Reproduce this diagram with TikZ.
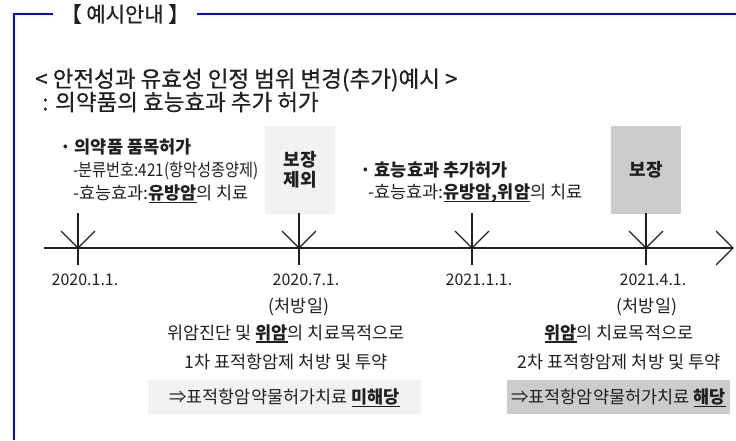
\documentclass[tikz,border=0pt]{standalone}
\usepackage{fontspec}
\setmainfont{Noto Sans CJK KR}
\newfontfamily\titlefont{Noto Sans CJK KR}[FakeBold=0.6]
\newfontfamily\narrowfont{Noto Sans CJK KR}[FakeStretch=0.87]
\usetikzlibrary{positioning}
\definecolor{frameblue}{HTML}{0000FF}
\definecolor{boxlight}{HTML}{F2F2F2}
\definecolor{boxdark}{HTML}{CCCCCC}
\definecolor{ink}{HTML}{231F20}
% bold, underlined word
\newcommand{\bul}[1]{\leavevmode\setbox0=\hbox{\textbf{#1}}\rlap{\smash{\rule[-3.5pt]{\wd0}{1.3pt}}}\box0}

\begin{document}
\begin{tikzpicture}[x=1pt,y=-1pt,
  txt/.style={inner sep=0pt,text=ink,font=\fontsize{17.5}{20}\selectfont},
  head/.style={txt,font=\titlefont\fontsize{22.5}{24}\selectfont},
  note/.style={txt,anchor=west,font=\bfseries\fontsize{17.5}{20}\selectfont},
  tl/.style={line width=1.1pt,ink},
  frame/.style={line width=2pt,frameblue}]
  \useasboundingbox (0,0) rectangle (736,440);
  % frame with heading
  \node[txt,font=\titlefont\fontsize{21}{22}\selectfont,minimum width=144pt] (hdr) at (125,14) {【 예시안내 】};
  \draw[frame] (hdr.west) -- (14,14) -- (14,440);
  \draw[frame] (hdr.east) -- (736,14);
  % titles
  \node[head,anchor=west] (title) at (35,80) {< 안전성과 유효성 인정 범위 변경(추가)예시 >};
  \node[head,anchor=west] (subtitle) at (42,102) {: 의약품의 효능효과 추가 허가};
  % permit notes
  \node[note] (permit) at (60,147) {· 의약품 품목허가};
  \node[txt,anchor=west,font=\narrowfont\fontsize{17.5}{20}\selectfont] (code) at (73,171) {-분류번호:421(항악성종양제)};
  \node[txt,anchor=west] (eff1) at (73,193) {-효능효과:\bul{유방암}의 치료};
  \node[note] (addpermit) at (360,170) {· 효능효과 추가허가};
  \node[txt,anchor=west] (eff2) at (368,193) {-효능효과:\bul{유방암,위암}의 치료};
  % coverage boxes
  \node[txt,fill=boxlight,minimum width=70pt,minimum height=88pt,align=center,font=\bfseries\fontsize{18}{20}\selectfont] (excl) at (300,170) {보장\\제외};
  \node[txt,fill=boxdark,minimum width=70pt,minimum height=88pt,font=\bfseries\fontsize{18}{20}\selectfont] (cover) at (646,170) {보장};
  % time line
  \coordinate (tlstart) at (44,248);
  \coordinate (tlend) at (733,248);
  \draw[tl] (tlstart) -- (tlend);
  \draw[tl] (tlend) ++(-17,-17) -- (tlend) -- ++(-17,17);
  \foreach \n/\x/\day in {1/78/2020.1.1.,2/299/2020.7.1.,3/472/2021.1.1.,4/646/2021.4.1.}{
    \coordinate (t\n) at (\x,248);
    \draw[tl] (\x,213) -- (\x,265);
    \draw[tl] (\x-17,231) -- (t\n) -- (\x+17,231);
    \node[txt,font=\fontsize{16}{18}\selectfont] (d\n) at (\x+7,280) {\day};
  }
  \node[txt] (rx1) at (299,307) {(처방일)};
  \node[txt] (rx2) at (647,307) {(처방일)};
  % prescriptions and results
  \node[txt,align=center,font=\fontsize{17.5}{29}\selectfont] (use1) at (286,347) {위암진단 및 \bul{위암}의 치료목적으로\\1차 표적항암제 처방 및 투약};
  \node[txt,align=center,font=\fontsize{17.5}{29}\selectfont] (use2) at (619,347) {\bul{위암}의 치료목적으로\\2차 표적항암제 처방 및 투약};
  \node[txt,fill=boxlight,minimum width=273pt,minimum height=34pt] (res1) at (284.5,397) {⇒표적항암약물허가치료 \bul{미해당}};
  \node[txt,fill=boxdark,minimum width=223pt,minimum height=34pt] (res2) at (618.5,397) {⇒표적항암약물허가치료 \bul{해당}};
\end{tikzpicture}
\end{document}
